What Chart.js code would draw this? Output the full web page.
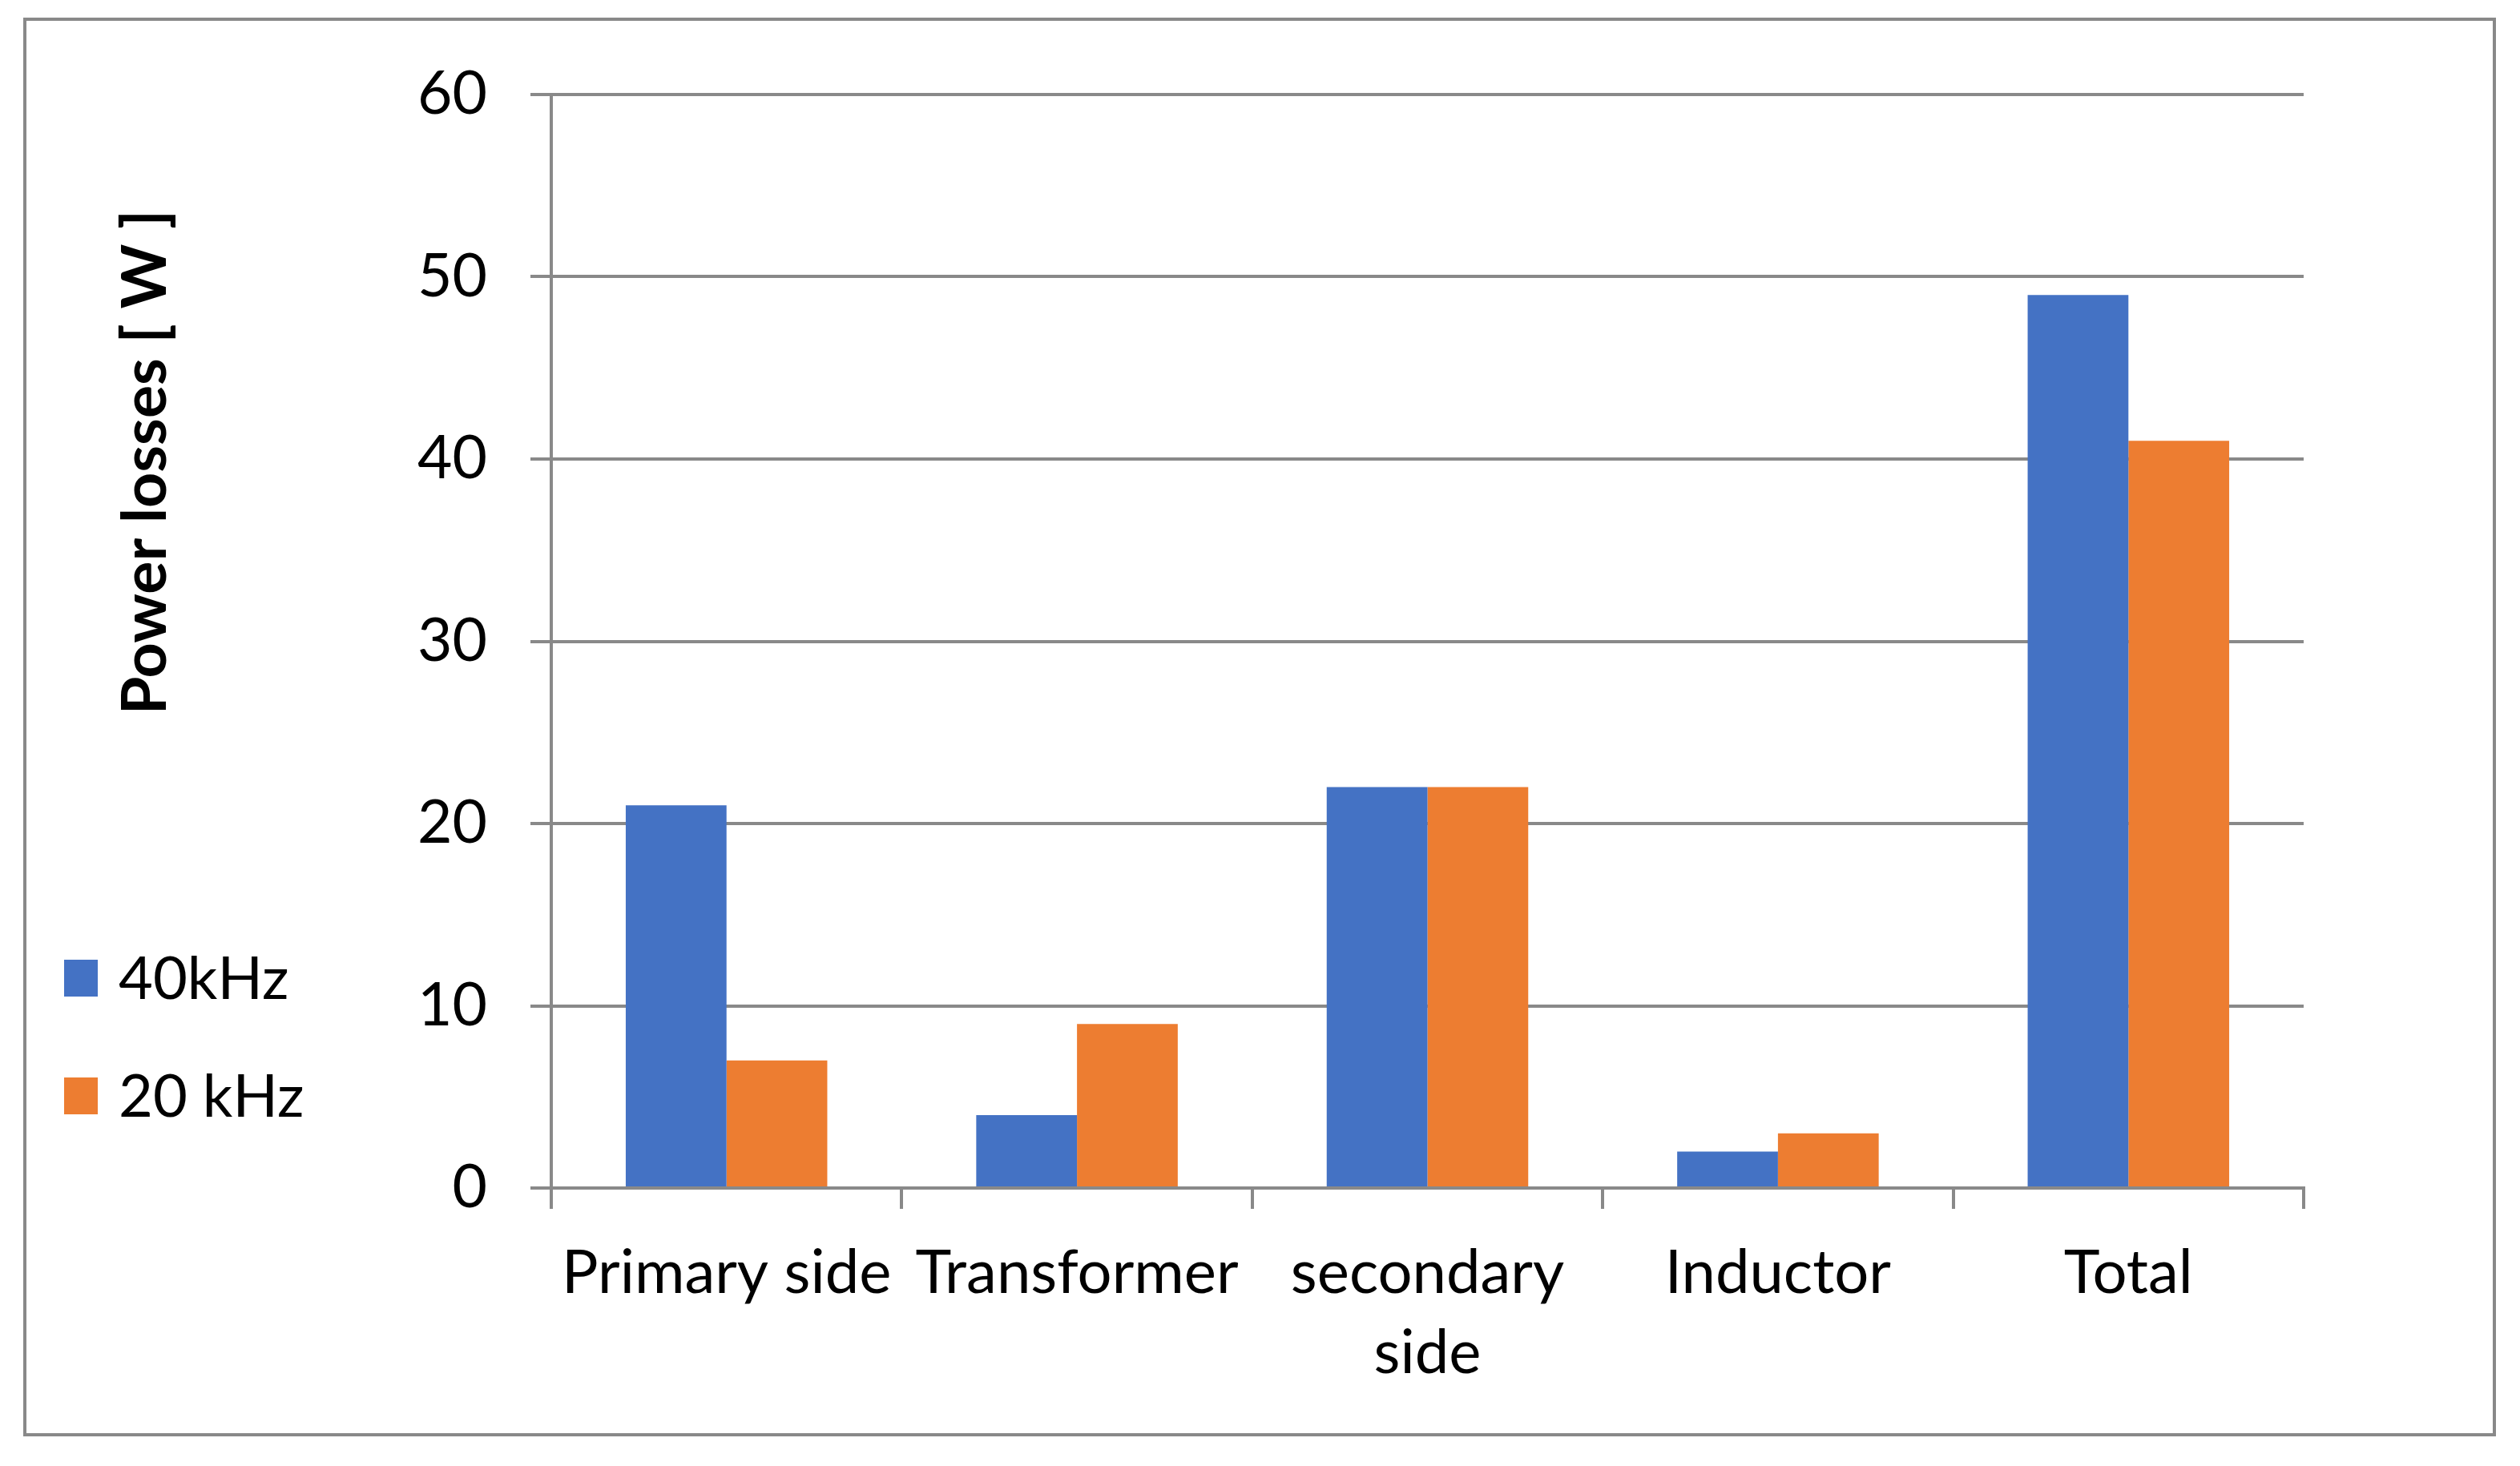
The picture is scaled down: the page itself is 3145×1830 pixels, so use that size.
<!DOCTYPE html>
<html>
<head>
<meta charset="utf-8">
<script src="https://cdn.jsdelivr.net/npm/chart.js@4"></script>
<style>
  html, body { margin: 0; padding: 0; background: #fff; }
  #wrap { width: 3145px; height: 1830px; }
</style>
</head>
<body>
<div id="wrap"><canvas id="chart" width="3145" height="1830"></canvas></div>
<script>
// Data
const categories = [["Primary side"], ["Transformer"], ["secondary", "side"], ["Inductor"], ["Total"]];
const losses40k = [21, 4, 22, 2, 49];
const losses20k = [7, 9, 22, 3, 41];
const seriesNames = ["40kHz", "20 kHz"];
const yTicks = [0, 10, 20, 30, 40, 50, 60];
const yTitle = "Power losses [ W ]";

const gray = "#898989";
const font = "Lato";

// Frame, rotated y title and legend on the left
const extras = {
  id: "extras",
  beforeDraw(chart) {
    const ctx = chart.ctx;
    ctx.save();
    ctx.fillStyle = "#fff";
    ctx.fillRect(0, 0, chart.width, chart.height);
    ctx.strokeStyle = gray;
    ctx.lineWidth = 4;
    ctx.strokeRect(31, 24, 3082, 1767);
    ctx.restore();
  },
  afterDraw(chart) {
    const ctx = chart.ctx;
    ctx.save();
    // y axis title
    ctx.translate(182, 577);
    ctx.rotate(-Math.PI / 2);
    ctx.font = "bold 77px " + font;
    ctx.fillStyle = "#000";
    ctx.textAlign = "center";
    ctx.textBaseline = "middle";
    ctx.fillText(yTitle, 0, 0);
    ctx.restore();

    // legend
    ctx.save();
    ctx.font = "74px " + font;
    ctx.textBaseline = "middle";
    chart.data.datasets.forEach((ds, i) => {
      const cy = 1221 + i * 147;
      ctx.fillStyle = ds.backgroundColor;
      ctx.fillRect(80, cy - 23, 42, 46);
      ctx.fillStyle = "#000";
      ctx.fillText(ds.label, 148, cy + 2);
    });
    ctx.restore();
  }
};

new Chart(document.getElementById("chart"), {
  type: "bar",
  data: {
    labels: categories,
    datasets: [
      { label: seriesNames[0], data: losses40k, backgroundColor: "#4472C4" },
      { label: seriesNames[1], data: losses20k, backgroundColor: "#ED7D31" }
    ]
  },
  options: {
    responsive: false,
    animation: false,
    layout: { padding: { left: 400, right: 270, top: 118, bottom: 47 } },
    datasets: { bar: { barPercentage: 1, categoryPercentage: 0.575 } },
    plugins: {
      legend: { display: false },
      tooltip: { enabled: false }
    },
    scales: {
      x: {
        afterFit(s) { s.height = 300; },
        grid: { drawOnChartArea: false, drawTicks: true, tickLength: 26, color: gray, lineWidth: 4 },
        border: { display: true, color: gray, width: 4 },
        ticks: { color: "#000", font: { family: font, size: 76, lineHeight: 1.32 }, padding: 30, maxRotation: 0, autoSkip: false }
      },
      y: {
        min: 0,
        max: 60,
        afterFit(s) { s.width = 288; },
        afterBuildTicks(s) { s.ticks = yTicks.map(v => ({ value: v })); },
        grid: { color: gray, lineWidth: 4, tickLength: 26 },
        border: { display: true, color: gray, width: 4 },
        ticks: { color: "#000", font: { family: font, size: 75 }, padding: 54 }
      }
    }
  },
  plugins: [extras]
});
</script>
</body>
</html>
